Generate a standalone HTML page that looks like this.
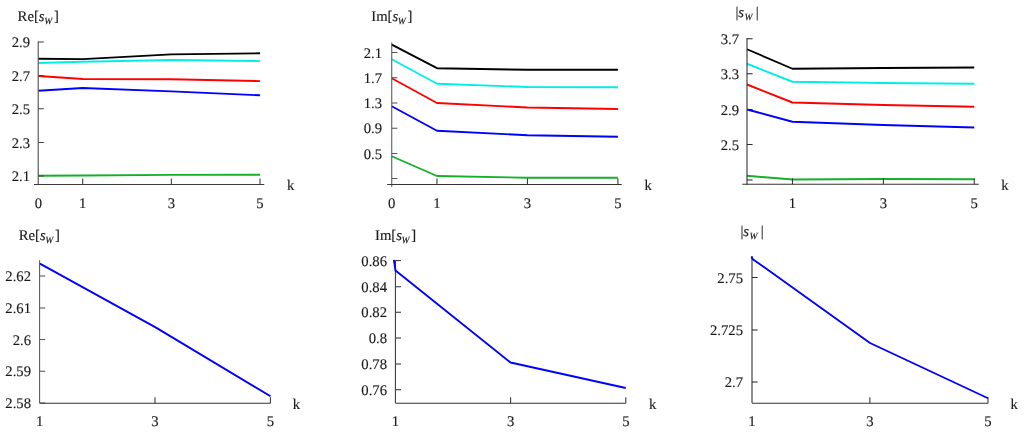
<!DOCTYPE html>
<html><head><meta charset="utf-8"><style>
html,body{margin:0;padding:0;background:#fff;}
body{width:1024px;height:433px;overflow:hidden;}
svg{display:block;will-change:transform;}
text{text-rendering:geometricPrecision;font-family:"Liberation Serif",serif;font-size:14.7px;fill:#1a1a1a;stroke:#1a1a1a;stroke-width:0.15px;}
.ax{stroke-width:1.05;fill:none;}
.ln{stroke-width:1.9;fill:none;stroke-linejoin:round;}
</style></head><body>
<svg width="1024" height="433" viewBox="0 0 1024 433">
<text x="17.6" y="20.8" font-size="14.6">Re[<tspan font-style="italic">s</tspan><tspan font-style="italic" font-size="9.64" dy="3.2" dx="-0.4">W</tspan><tspan dy="-3.2" dx="1.8">]</tspan></text>
<polyline points="38.40,58.75 82.72,59.10 171.36,54.40 260.00,53.30" stroke="#000000" class="ln"/>
<polyline points="38.40,63.00 82.72,61.75 171.36,60.00 260.00,61.10" stroke="#00eee6" class="ln"/>
<polyline points="38.40,76.00 82.72,79.00 171.36,79.20 260.00,81.10" stroke="#ff0000" class="ln"/>
<polyline points="38.40,90.80 82.72,88.00 171.36,91.40 260.00,95.30" stroke="#0000ff" class="ln"/>
<polyline points="38.40,175.80 82.72,175.50 171.36,174.90 260.00,174.75" stroke="#14b02a" class="ln"/>
<line x1="38.2" y1="41.5" x2="38.2" y2="184.5" stroke="#444" class="ax"/>
<line x1="38.2" y1="42" x2="43.800000000000004" y2="42" stroke="#444" class="ax"/>
<text x="30.0" y="47.2" text-anchor="end">2.9</text>
<line x1="38.2" y1="75.5" x2="43.800000000000004" y2="75.5" stroke="#444" class="ax"/>
<text x="30.0" y="80.7" text-anchor="end">2.7</text>
<line x1="38.2" y1="108.75" x2="43.800000000000004" y2="108.75" stroke="#444" class="ax"/>
<text x="30.0" y="113.95" text-anchor="end">2.5</text>
<line x1="38.2" y1="142.5" x2="43.800000000000004" y2="142.5" stroke="#444" class="ax"/>
<text x="30.0" y="147.7" text-anchor="end">2.3</text>
<line x1="38.2" y1="176" x2="43.800000000000004" y2="176" stroke="#444" class="ax"/>
<text x="30.0" y="181.2" text-anchor="end">2.1</text>
<line x1="34" y1="184.4" x2="264.25" y2="184.4" stroke="#3a3a3a" class="ax"/>
<line x1="82.72" y1="184.4" x2="82.72" y2="178.4" stroke="#3a3a3a" class="ax"/>
<line x1="171.36" y1="184.4" x2="171.36" y2="178.4" stroke="#3a3a3a" class="ax"/>
<line x1="260.00" y1="184.4" x2="260.00" y2="178.4" stroke="#3a3a3a" class="ax"/>
<text x="38.40" y="208.3" text-anchor="middle">0</text>
<text x="82.72" y="208.3" text-anchor="middle">1</text>
<text x="171.36" y="208.3" text-anchor="middle">3</text>
<text x="260.00" y="208.3" text-anchor="middle">5</text>
<text x="287.0" y="190">k</text>
<text x="371.25" y="20.8" font-size="14.6">Im[<tspan font-style="italic">s</tspan><tspan font-style="italic" font-size="9.64" dy="3.2" dx="-0.4">W</tspan><tspan dy="-3.2" dx="1.8">]</tspan></text>
<polyline points="391.75,44.60 436.98,68.20 527.44,69.80 617.90,69.80" stroke="#000000" class="ln"/>
<polyline points="391.75,59.25 436.98,83.75 527.44,87.00 617.90,87.25" stroke="#00eee6" class="ln"/>
<polyline points="391.75,78.25 436.98,103.00 527.44,107.50 617.90,109.00" stroke="#ff0000" class="ln"/>
<polyline points="391.75,106.25 436.98,130.75 527.44,135.25 617.90,136.75" stroke="#0000ff" class="ln"/>
<polyline points="391.75,156.25 436.98,176.00 527.44,177.75 617.90,177.75" stroke="#14b02a" class="ln"/>
<line x1="391.75" y1="42.5" x2="391.75" y2="186.7" stroke="#555" class="ax"/>
<line x1="391.75" y1="52.5" x2="397.35" y2="52.5" stroke="#555" class="ax"/>
<text x="382.0" y="57.7" text-anchor="end">2.1</text>
<line x1="391.75" y1="77.75" x2="397.35" y2="77.75" stroke="#555" class="ax"/>
<text x="382.0" y="82.95" text-anchor="end">1.7</text>
<line x1="391.75" y1="103" x2="397.35" y2="103" stroke="#555" class="ax"/>
<text x="382.0" y="108.2" text-anchor="end">1.3</text>
<line x1="391.75" y1="128.25" x2="397.35" y2="128.25" stroke="#555" class="ax"/>
<text x="382.0" y="133.45" text-anchor="end">0.9</text>
<line x1="391.75" y1="153.5" x2="397.35" y2="153.5" stroke="#555" class="ax"/>
<text x="382.0" y="158.7" text-anchor="end">0.5</text>
<line x1="391.75" y1="178.5" x2="397.35" y2="178.5" stroke="#555" class="ax"/>
<line x1="387.2" y1="184.4" x2="621.75" y2="184.4" stroke="#333" class="ax"/>
<line x1="436.98" y1="184.4" x2="436.98" y2="178.4" stroke="#333" class="ax"/>
<line x1="527.44" y1="184.4" x2="527.44" y2="178.4" stroke="#333" class="ax"/>
<line x1="617.90" y1="184.4" x2="617.90" y2="178.4" stroke="#333" class="ax"/>
<text x="391.75" y="208.3" text-anchor="middle">0</text>
<text x="436.98" y="208.3" text-anchor="middle">1</text>
<text x="527.44" y="208.3" text-anchor="middle">3</text>
<text x="617.90" y="208.3" text-anchor="middle">5</text>
<text x="644.5" y="190">k</text>
<text x="735.4" y="17.1" font-size="14.6">|<tspan font-style="italic">s</tspan><tspan font-style="italic" font-size="9.64" dy="3.2" dx="0.4">W</tspan><tspan dy="-3.2" dx="3.2">|</tspan></text>
<polyline points="747.00,49.25 792.45,68.75 883.35,68.00 974.25,67.50" stroke="#000000" class="ln"/>
<polyline points="747.00,63.75 792.45,81.75 883.35,83.00 974.25,83.75" stroke="#00eee6" class="ln"/>
<polyline points="747.00,84.50 792.45,102.50 883.35,105.00 974.25,106.75" stroke="#ff0000" class="ln"/>
<polyline points="747.00,109.50 792.45,121.75 883.35,125.00 974.25,127.50" stroke="#0000ff" class="ln"/>
<polyline points="747.00,175.80 792.45,179.50 883.35,179.00 974.25,179.25" stroke="#14b02a" class="ln"/>
<line x1="747.0" y1="38" x2="747.0" y2="184.5" stroke="#2a2a2a" class="ax"/>
<line x1="747.0" y1="38.75" x2="752.6" y2="38.75" stroke="#2a2a2a" class="ax"/>
<text x="739.0" y="43.95" text-anchor="end">3.7</text>
<line x1="747.0" y1="73.75" x2="752.6" y2="73.75" stroke="#2a2a2a" class="ax"/>
<text x="739.0" y="78.95" text-anchor="end">3.3</text>
<line x1="747.0" y1="109.5" x2="752.6" y2="109.5" stroke="#2a2a2a" class="ax"/>
<text x="739.0" y="114.7" text-anchor="end">2.9</text>
<line x1="747.0" y1="144.5" x2="752.6" y2="144.5" stroke="#2a2a2a" class="ax"/>
<text x="739.0" y="149.7" text-anchor="end">2.5</text>
<line x1="747.0" y1="180" x2="752.6" y2="180" stroke="#2a2a2a" class="ax"/>
<line x1="742.3" y1="184.3" x2="978.75" y2="184.3" stroke="#333" class="ax"/>
<line x1="792.45" y1="184.3" x2="792.45" y2="178.3" stroke="#333" class="ax"/>
<line x1="883.35" y1="184.3" x2="883.35" y2="178.3" stroke="#333" class="ax"/>
<line x1="974.25" y1="184.3" x2="974.25" y2="178.3" stroke="#333" class="ax"/>
<text x="792.45" y="208.3" text-anchor="middle">1</text>
<text x="883.35" y="208.3" text-anchor="middle">3</text>
<text x="974.25" y="208.3" text-anchor="middle">5</text>
<text x="1001.25" y="190">k</text>
<text x="18.75" y="240" font-size="14.6">Re[<tspan font-style="italic">s</tspan><tspan font-style="italic" font-size="9.64" dy="3.2" dx="-0.4">W</tspan><tspan dy="-3.2" dx="1.8">]</tspan></text>
<polyline points="39.90,263.70 155.60,327.40 270.50,396.25" stroke="#0000ff" class="ln"/>
<line x1="39.6" y1="260.3" x2="39.6" y2="403" stroke="#555" class="ax"/>
<line x1="39.6" y1="276" x2="45.2" y2="276" stroke="#555" class="ax"/>
<text x="31.0" y="281.2" text-anchor="end">2.62</text>
<line x1="39.6" y1="308" x2="45.2" y2="308" stroke="#555" class="ax"/>
<text x="31.0" y="313.2" text-anchor="end">2.61</text>
<line x1="39.6" y1="339.5" x2="45.2" y2="339.5" stroke="#555" class="ax"/>
<text x="31.0" y="344.7" text-anchor="end">2.6</text>
<line x1="39.6" y1="371.25" x2="45.2" y2="371.25" stroke="#555" class="ax"/>
<text x="31.0" y="376.45" text-anchor="end">2.59</text>
<line x1="39.6" y1="403" x2="45.2" y2="403" stroke="#555" class="ax"/>
<text x="31.0" y="408.2" text-anchor="end">2.58</text>
<line x1="39.6" y1="403.15" x2="270.5" y2="403.15" stroke="#333" class="ax"/>
<line x1="155.00" y1="403.15" x2="155.00" y2="397.15" stroke="#333" class="ax"/>
<line x1="270.40" y1="403.15" x2="270.40" y2="397.15" stroke="#333" class="ax"/>
<text x="39.60" y="425.9" text-anchor="middle">1</text>
<text x="155.00" y="425.9" text-anchor="middle">3</text>
<text x="270.40" y="425.9" text-anchor="middle">5</text>
<text x="292.75" y="408.75">k</text>
<text x="375" y="240" font-size="14.6">Im[<tspan font-style="italic">s</tspan><tspan font-style="italic" font-size="9.64" dy="3.2" dx="-0.4">W</tspan><tspan dy="-3.2" dx="1.8">]</tspan></text>
<line x1="395.4" y1="260.2" x2="395.4" y2="403" stroke="#333" class="ax"/>
<line x1="395.4" y1="260.6" x2="401.0" y2="260.6" stroke="#333" class="ax"/>
<text x="387.0" y="265.8" text-anchor="end">0.86</text>
<line x1="395.4" y1="286.75" x2="401.0" y2="286.75" stroke="#333" class="ax"/>
<text x="387.0" y="291.95" text-anchor="end">0.84</text>
<line x1="395.4" y1="312.25" x2="401.0" y2="312.25" stroke="#333" class="ax"/>
<text x="387.0" y="317.45" text-anchor="end">0.82</text>
<line x1="395.4" y1="338" x2="401.0" y2="338" stroke="#333" class="ax"/>
<text x="387.0" y="343.2" text-anchor="end">0.8</text>
<line x1="395.4" y1="364" x2="401.0" y2="364" stroke="#333" class="ax"/>
<text x="387.0" y="369.2" text-anchor="end">0.78</text>
<line x1="395.4" y1="389.75" x2="401.0" y2="389.75" stroke="#333" class="ax"/>
<text x="387.0" y="394.95" text-anchor="end">0.76</text>
<line x1="395.4" y1="403.15" x2="625.75" y2="403.15" stroke="#333" class="ax"/>
<line x1="510.60" y1="403.15" x2="510.60" y2="397.15" stroke="#333" class="ax"/>
<line x1="625.80" y1="403.15" x2="625.80" y2="397.15" stroke="#333" class="ax"/>
<text x="395.40" y="425.9" text-anchor="middle">1</text>
<text x="510.60" y="425.9" text-anchor="middle">3</text>
<text x="625.80" y="425.9" text-anchor="middle">5</text>
<text x="649.0" y="408.75">k</text>
<polyline points="393.90,259.90 395.50,270.60 510.50,362.50 625.75,388.00" stroke="#0000ff" class="ln"/>
<text x="740.4" y="235.8" font-size="14.6">|<tspan font-style="italic">s</tspan><tspan font-style="italic" font-size="9.64" dy="3.2" dx="0.4">W</tspan><tspan dy="-3.2" dx="3.2">|</tspan></text>
<line x1="752.0" y1="256.25" x2="752.0" y2="403" stroke="#2a2a2a" class="ax"/>
<line x1="752.0" y1="277.5" x2="757.6" y2="277.5" stroke="#2a2a2a" class="ax"/>
<text x="743.0" y="282.7" text-anchor="end">2.75</text>
<line x1="752.0" y1="330" x2="757.6" y2="330" stroke="#2a2a2a" class="ax"/>
<text x="743.0" y="335.2" text-anchor="end">2.725</text>
<line x1="752.0" y1="382" x2="757.6" y2="382" stroke="#2a2a2a" class="ax"/>
<text x="743.0" y="387.2" text-anchor="end">2.7</text>
<line x1="752.0" y1="403.15" x2="988" y2="403.15" stroke="#333" class="ax"/>
<line x1="869.90" y1="403.15" x2="869.90" y2="397.15" stroke="#333" class="ax"/>
<line x1="988.00" y1="403.15" x2="988.00" y2="397.15" stroke="#333" class="ax"/>
<text x="751.80" y="425.9" text-anchor="middle">1</text>
<text x="869.90" y="425.9" text-anchor="middle">3</text>
<text x="988.00" y="425.9" text-anchor="middle">5</text>
<text x="1010.5" y="408.75">k</text>
<polyline points="751.40,256.50 752.50,258.90 870.00,343.00 988.00,398.25" stroke="#0000ff" class="ln"/>
</svg>
</body></html>
